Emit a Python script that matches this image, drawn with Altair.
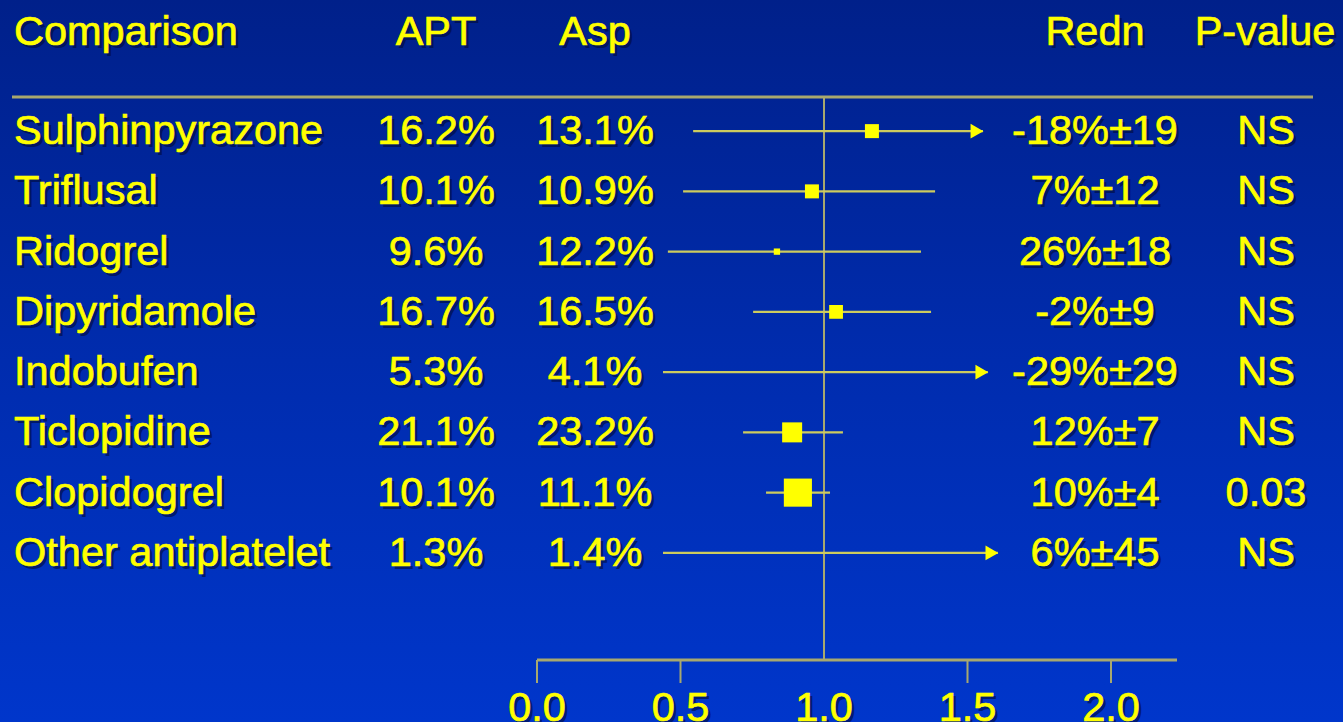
import altair as alt
import pandas as pd

# ---------------- data ----------------
names = ["Sulphinpyrazone", "Triflusal", "Ridogrel", "Dipyridamole",
         "Indobufen", "Ticlopidine", "Clopidogrel", "Other antiplatelet"]
apt = ["16.2%", "10.1%", "9.6%", "16.7%", "5.3%", "21.1%", "10.1%", "1.3%"]
asp = ["13.1%", "10.9%", "12.2%", "16.5%", "4.1%", "23.2%", "11.1%", "1.4%"]
redn = ["-18%±19", "7%±12", "26%±18", "-2%±9", "-29%±29", "12%±7", "10%±4", "6%±45"]
pval = ["NS", "NS", "NS", "NS", "NS", "NS", "0.03", "NS"]
ci_lo = [0.544, 0.509, 0.456, 0.753, 0.439, 0.718, 0.798, 0.439]
ci_hi = [1.554, 1.387, 1.338, 1.373, 1.571, 1.066, 1.021, 1.606]
ratio = [1.167, 0.958, 0.836, 1.042, None, 0.889, 0.909, None]
box_area = [196, 196, 40, 190, 0, 400, 790, 0]
truncated = [True, False, False, False, True, False, False, True]

headers = ["Comparison", "APT", "Asp", "Redn", "P-value"]
tick_values = [0.0, 0.5, 1.5, 2.0]
tick_labels = ["0.0", "0.5", "1.0", "1.5", "2.0"]
tick_label_values = [0.0, 0.5, 1.0, 1.5, 2.0]
axis_end = 2.23

W, H = 1343, 722
YELLOW = "#ffff00"
LINE = "#cccb5e"
RULE = "#a8a86e"
FONT = "Liberation Sans"
FS = 41.5

rows = pd.DataFrame({
    "name": names, "apt": apt, "asp": asp, "redn": redn, "pval": pval,
    "lo": ci_lo, "hi": ci_hi, "ratio": ratio, "area": box_area,
    "trunc": truncated,
})

xscale = alt.Scale(domain=[0, 2], range=[537, 1111], nice=False, zero=False)
# point scale keeps half a step of padding at each end -> rows at ~131 ... ~553
yscale = alt.Scale(type="point", domain=names, range=[101, 583])
Y = alt.Y("name:N", scale=yscale, axis=None)

# ---------------- background ----------------
bg = alt.Chart(pd.DataFrame({"a": [0]})).mark_rect(
    color=alt.Gradient(
        gradient="linear",
        stops=[alt.GradientStop(color="#00208a", offset=0),
               alt.GradientStop(color="#002cae", offset=0.5),
               alt.GradientStop(color="#0036cb", offset=1)],
        x1=0, x2=0, y1=0, y2=1)
).encode(x=alt.value(0), x2=alt.value(W), y=alt.value(0), y2=alt.value(H))


def text_layer(data, field, x_px=None, y_enc=None, align="center", x_enc=None,
               baseline="middle"):
    layers = []
    for shadow in (True, False):
        kw = dict(font=FONT, fontSize=FS, align=align, baseline=baseline)
        if shadow:
            kw.update(color="#000b3a", opacity=0.6, dx=3, dy=4)
        else:
            kw.update(color=YELLOW, stroke=YELLOW, strokeWidth=0.7, opacity=1,
                      dy=1)
        m = alt.Chart(data).mark_text(**kw)
        enc = {"text": alt.Text(f"{field}:N")}
        enc["x"] = x_enc if x_enc is not None else alt.value(x_px)
        enc["y"] = y_enc
        layers.append(m.encode(**enc))
    return layers


# ---------------- header ----------------
hdr_px = [14, 436, 595, 1095, 1265]
hdr_al = ["left", "center", "center", "center", "center"]
header_layers = []
for h, px, al in zip(headers, hdr_px, hdr_al):
    header_layers += text_layer(pd.DataFrame({"h": [h]}), "h", x_px=px,
                                y_enc=alt.value(32), align=al)

header_rule = alt.Chart(pd.DataFrame({"a": [0]})).mark_rule(
    color=RULE, strokeWidth=3
).encode(x=alt.value(12), x2=alt.value(1313), y=alt.value(97))

# ---------------- table columns ----------------
table_layers = []
table_layers += text_layer(rows, "name", x_px=14, y_enc=Y, align="left")
table_layers += text_layer(rows, "apt", x_px=436, y_enc=Y)
table_layers += text_layer(rows, "asp", x_px=595, y_enc=Y)
table_layers += text_layer(rows, "redn", x_px=1095, y_enc=Y)
table_layers += text_layer(rows, "pval", x_px=1266, y_enc=Y)

# ---------------- forest plot ----------------
ref_line = alt.Chart(pd.DataFrame({"v": [1.0]})).mark_rule(
    color=RULE, strokeWidth=2
).encode(x=alt.X("v:Q", scale=xscale, axis=None), y=alt.value(97), y2=alt.value(660))

ci = alt.Chart(rows).mark_rule(color=LINE, strokeWidth=2.2).encode(
    x=alt.X("lo:Q", scale=xscale, axis=None), x2="hi:Q", y=Y)

arrows = alt.Chart(rows).transform_filter("datum.trunc").mark_point(
    shape="triangle-right", filled=True, size=220, color=YELLOW, opacity=1,
    xOffset=-6
).encode(x=alt.X("hi:Q", scale=xscale, axis=None), y=Y)

boxes = alt.Chart(rows).transform_filter("datum.area > 0").mark_square(
    color=YELLOW, opacity=1
).encode(x=alt.X("ratio:Q", scale=xscale, axis=None), y=Y,
         size=alt.Size("area:Q", scale=None, legend=None))

# ---------------- bottom axis ----------------
axis_line = alt.Chart(pd.DataFrame({"a": [0.0], "b": [axis_end]})).mark_rule(
    color=RULE, strokeWidth=3
).encode(x=alt.X("a:Q", scale=xscale, axis=None), x2="b:Q", y=alt.value(660))

ticks = alt.Chart(pd.DataFrame({"t": tick_values})).mark_rule(
    color=RULE, strokeWidth=2
).encode(x=alt.X("t:Q", scale=xscale, axis=None), y=alt.value(660), y2=alt.value(683))

tl = pd.DataFrame({"v": tick_label_values, "lab": tick_labels})
tick_text = text_layer(tl, "lab", y_enc=alt.value(720), baseline="alphabetic",
                       x_enc=alt.X("v:Q", scale=xscale, axis=None))

chart = alt.layer(
    bg, header_rule, ref_line, ci, arrows, boxes, axis_line, ticks,
    *header_layers, *table_layers, *tick_text
).properties(
    width=W, height=H, padding=0, background="#002cae",
    autosize=alt.AutoSizeParams(type="none")
).configure_view(stroke=None)

chart.save("out.html", embed_options={"renderer": "svg", "actions": False})
